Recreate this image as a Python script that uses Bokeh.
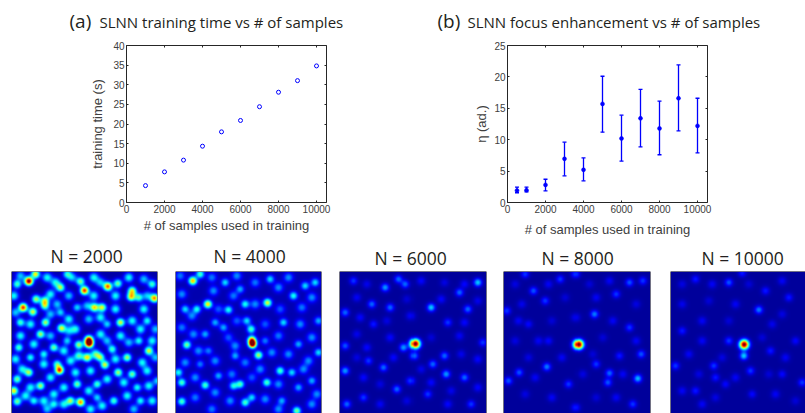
import numpy as np
from bokeh.plotting import figure
from bokeh.layouts import column, row
from bokeh.core.properties import value
from bokeh.models import (ColumnDataSource, FixedTicker, LinearAxis, LinearColorMapper, Range1d,
                          Span, TeeHead, Whisker)
from bokeh.embed import file_html
from bokeh.resources import INLINE

# ---- panel (a)
samples_a = [1000, 2000, 3000, 4000, 5000, 6000, 7000, 8000, 9000, 10000]
train_time = [4.3, 7.8, 10.8, 14.35, 18.0, 20.9, 24.4, 28.1, 31.05, 34.8]

# ---- panel (b)
samples_b = [500, 1000, 2000, 3000, 4000, 5000, 6000, 7000, 8000, 9000, 10000]
eta_mean = [1.9, 1.95, 2.8, 6.95, 5.2, 15.7, 10.2, 13.4, 11.8, 16.6, 12.2]
eta_high = [2.45, 2.45, 3.7, 9.6, 7.1, 20.1, 13.9, 18.0, 16.15, 21.9, 16.6]
eta_low = [1.55, 1.7, 1.85, 4.25, 3.45, 11.2, 6.6, 8.85, 7.6, 11.4, 7.9]

x_ticks = [0, 2000, 4000, 6000, 8000, 10000]
y_ticks_a = [0, 5, 10, 15, 20, 25, 30, 35, 40]
y_ticks_b = [0, 5, 10, 15, 20, 25]

# ---- focus maps: spots (column, row from top, height)
titles_maps = ["N = 2000", "N = 4000", "N = 6000", "N = 8000", "N = 10000"]
spots_2000 = [(85,121,.95),(265,296,.7),(266,308,.95),(177,388,.8),(68,200,.8),(322,137,.75),(252,149,.8),(462,172,.7),(240,484,.7),(105,100,.6),
 (133,180,.5),(133,195,.45),(107,175,.5),(97,213,.55),(282,200,.6),(305,200,.55),(395,150,.55),(392,168,.6),(183,262,.55),(135,245,.5),(120,280,.5),
 (360,245,.55),(260,350,.6),(313,372,.55),(235,312,.5),(160,320,.45),(445,330,.55),(380,350,.5),(353,395,.5),(85,395,.5),(120,435,.5),
 (50,482,.45),(210,480,.5),(395,400,.45),(180,140,.5),(240,122,.45),(352,128,.45),(415,170,.4),(50,130,.4),(60,245,.4),(55,320,.4),
 (90,350,.35),(230,430,.45),(300,350,.45),(335,325,.4),(40,450,.6),(50,415,.45),(290,430,.4),(340,480,.4),(420,480,.35),(455,130,.4),
 (440,240,.35),(415,300,.35),(410,440,.35),(200,100,.35),(170,370,.4),(230,200,.3),(180,215,.3),(320,250,.3),(160,490,.35),(100,480,.35),
 (470,420,.3),(130,340,.35),(200,300,.3),(290,470,.3)]
mottle_2000 = [(60,105,.2),(140,110,.25),(165,125,.25),(215,110,.2),(280,110,.25),(300,125,.2),(385,110,.25),(430,115,.2),
 (40,165,.25),(150,160,.25),(205,165,.2),(280,165,.25),(345,165,.25),(440,165,.2),(170,190,.2),(260,195,.2),(345,205,.25),(430,205,.25),
 (45,215,.2),(150,220,.2),(205,235,.25),(265,235,.2),(300,230,.25),(395,240,.25),(420,265,.25),(465,265,.2),(90,250,.25),(225,265,.25),
 (60,285,.25),(150,285,.2),(205,270,.2),(300,280,.25),(360,285,.25),(385,305,.2),(455,300,.25),(100,310,.25),(190,330,.25),(320,300,.2),
 (45,355,.25),(130,370,.25),(210,360,.25),(235,345,.3),(285,340,.3),(345,355,.25),(425,365,.25),(465,350,.2),(65,385,.25),(225,395,.25),
 (270,390,.25),(440,390,.25),(150,410,.25),(320,415,.25),(370,425,.25),(445,435,.25),(90,440,.25),(190,440,.25),(265,450,.25),(160,460,.25),
 (75,465,.25),(130,480,.25),(190,490,.25),(305,495,.25),(380,465,.25),(455,480,.25),(400,505,.2),(270,505,.25),(140,505,.2)]
spots_4000 = [(260,298,.7),(262,310,1.0),(83,120,.65),(128,190,.6),(307,186,.55),(280,343,.5),(258,265,.4),(65,312,.45),(105,100,.4),(50,425,.4),
 (120,433,.4),(225,430,.4),(205,435,.35),(305,425,.4),(345,390,.4),(50,482,.4),(240,485,.4),(395,510,.45),(385,165,.35),(240,190,.35),
 (190,207,.35),(95,205,.35),(60,205,.3),(180,125,.3),(225,145,.25),(315,115,.3),(420,135,.3),(450,125,.3),(355,245,.3),(460,240,.25),
 (460,335,.3),(150,245,.25),(120,280,.25),(380,395,.3),(210,345,.25),(245,240,.3),(440,420,.25),(350,480,.25),(130,330,.2),(300,300,.2),
 (400,310,.25),(175,260,.25),(40,395,.35),(160,405,.25),(400,440,.25),(105,370,.2),(260,470,.3)]
mottle_4000 = [(45,105,.18),(140,110,.18),(215,105,.2),(270,125,.18),(370,110,.2),(50,160,.2),(145,150,.2),(205,165,.18),(340,140,.2),
 (440,170,.2),(80,225,.2),(160,205,.15),(270,190,.2),(345,205,.15),(410,200,.18),(50,260,.18),(215,240,.15),(300,250,.15),(405,250,.2),
 (85,280,.2),(190,290,.15),(340,285,.18),(440,290,.2),(100,330,.2),(210,315,.2),(240,365,.18),(320,335,.2),(370,340,.2),(430,360,.2),
 (60,365,.2),(150,360,.2),(285,385,.2),(415,385,.2),(90,410,.2),(200,400,.18),(260,410,.15),(340,430,.2),(455,460,.2),(150,455,.2),
 (90,470,.18),(195,480,.2),(300,475,.2),(440,490,.2),(140,505,.18),(340,505,.2)]
spots_6000 = [(253,309,1.0),(440,125,.3),(300,200,.3),(165,140,.25),(125,190,.2),(45,215,.2),(180,200,.2),(225,130,.2),(205,115,.2),
 (220,320,.25),(345,400,.25),(340,345,.2),(45,390,.25),(115,360,.15),(160,380,.2),(305,370,.2),(410,205,.2),(385,155,.2),(70,120,.15),
 (250,345,.2),(200,445,.2),(240,420,.15),(50,490,.2),(400,410,.2),(455,305,.15),(130,250,.12),(350,245,.15),(420,490,.15),(290,460,.15),
 (100,470,.15),(45,315,.18)]
mottle_6000 = [(110,130,.08),(270,120,.1),(340,125,.07),(400,130,.1),(80,170,.09),(230,175,.06),(330,175,.1),(440,180,.08),(90,230,.1),(170,240,.07),
 (240,225,.09),(400,245,.1),(80,280,.08),(180,290,.1),(300,290,.06),(385,285,.09),(110,320,.1),(390,340,.08),(440,355,.1),(80,350,.07),(190,350,.1),
 (270,385,.08),(100,410,.1),(150,430,.07),(300,425,.1),(360,450,.08),(440,440,.1),(150,490,.09),(230,480,.07),(350,490,.1)]
spots_8000 = [(248,311,1.0),(425,413,.28),(295,220,.22),(155,378,.22),(340,397,.2),(115,150,.18),(400,125,.18),(435,340,.18),(72,395,.18),
 (40,420,.18),(90,100,.15),(240,100,.15),(195,115,.15),(440,120,.15),(360,160,.15),(35,210,.15),(150,180,.15),(400,260,.15),(370,345,.12),
 (300,370,.15),(220,430,.15),(410,490,.15),(240,500,.12),(100,250,.1),(160,300,.1),(335,425,.18)]
mottle_8000 = [(60,130,.07),(160,130,.09),(280,130,.06),(340,120,.09),(80,190,.08),(210,170,.06),(300,170,.09),(420,190,.07),(70,240,.09),
 (170,240,.06),(240,230,.08),(350,240,.09),(60,300,.07),(130,300,.09),(320,290,.06),(420,300,.09),(100,350,.07),(200,350,.09),(290,340,.06),
 (120,410,.09),(260,400,.07),(380,400,.09),(90,460,.07),(170,470,.09),(300,470,.06),(360,470,.09)]
spots_10000 = [(746,311,1.0),(745,345,.3),(790,207,.22),(700,125,.18),(655,375,.15),(765,390,.15),(660,410,.12),(920,425,.15),(560,270,.12),
 (540,375,.15),(600,115,.12),(740,97,.12),(700,300,.15),(825,330,.12),(880,170,.12),(810,150,.12),(600,450,.12),(770,460,.1),(690,430,.1),
 (860,400,.1),(900,300,.1)]
mottle_10000 = [(560,130,.07),(650,130,.09),(760,130,.06),(860,120,.09),(560,190,.08),(640,180,.06),(720,190,.09),(860,220,.07),(620,240,.09),
 (700,240,.06),(830,250,.08),(620,300,.09),(800,290,.06),(580,340,.09),(680,350,.07),(870,350,.09),(610,400,.07),(720,410,.09),(820,400,.06),
 (560,450,.09),(660,470,.07),(840,460,.09),(900,480,.06),(620,490,.09)]

# ---- heading texts
head_letters = ["(a)", "(b)"]
head_texts = ["SLNN training time vs # of samples", "SLNN focus enhancement vs # of samples"]

TEXT = "#404040"
BLUE = "#0000ff"
AX = "#262626"
TITLE = "#231f20"
FONT = value("Open Sans")


def jet():
    t = np.linspace(0, 1, 256)
    r = np.clip(np.minimum(4 * t - 1.5, -4 * t + 4.5), 0, 1)
    g = np.clip(np.minimum(4 * t - 0.5, -4 * t + 3.5), 0, 1)
    b = np.clip(np.minimum(4 * t + 0.5, -4 * t + 2.5), 0, 1)
    return ["#%02x%02x%02x" % (int(a * 255), int(c * 255), int(d * 255)) for a, c, d in zip(r, g, b)]


def style_plot(p, yticks, xlabel, ylabel, x_standoff, y_standoff):
    xa, ya = p.xaxis[0], p.yaxis[0]
    xa.ticker = FixedTicker(ticks=x_ticks)
    ya.ticker = FixedTicker(ticks=yticks)
    xa.axis_label, ya.axis_label = xlabel, ylabel
    xa.axis_label_standoff, ya.axis_label_standoff = x_standoff, y_standoff
    for a in (xa, ya):
        a.axis_label_text_font = "Liberation Sans"
        a.axis_label_text_font_size = "13px"
        a.axis_label_text_font_style = "normal"
        a.axis_label_text_color = TEXT
        a.major_label_text_font = "Liberation Sans"
        a.major_label_text_font_size = "10px"
        a.major_label_text_color = TEXT
        a.major_label_standoff = 2
    top = LinearAxis(ticker=FixedTicker(ticks=x_ticks), major_label_overrides={t: "" for t in x_ticks})
    right = LinearAxis(ticker=FixedTicker(ticks=yticks), major_label_overrides={t: "" for t in yticks})
    p.add_layout(top, "above")
    p.add_layout(right, "right")
    for a in (xa, ya, top, right):
        a.major_tick_in = 2
        a.major_tick_out = 0
        a.minor_tick_line_color = None
        a.axis_line_color = AX
        a.major_tick_line_color = AX
    p.outline_line_color = None
    p.grid.visible = False


def banner(height):
    p = figure(width=805, height=height, output_backend="svg", toolbar_location=None,
               x_axis_location=None, y_axis_location=None,
               x_range=Range1d(0, 805), y_range=Range1d(height, 0),
               min_border_left=0, min_border_right=0, min_border_top=0, min_border_bottom=0)
    p.grid.visible = False
    p.outline_line_color = None
    return p


XMAX = 10526
# ---- heading band above the two plots
top_band = banner(36)
top_band.text(x=[69, 437], y=[20, 20], text=head_letters, text_font=FONT, text_font_size="19px",
              text_color=TITLE, text_baseline="middle")
top_band.text(x=[99, 467], y=[21, 21], text=head_texts, text_font=FONT, text_font_size="15px",
              text_color=TITLE, text_baseline="middle")

# ---- (a)
pa = figure(width=420, height=204, output_backend="svg", toolbar_location=None,
            x_range=Range1d(0, XMAX), y_range=Range1d(0, 40),
            min_border_left=126, min_border_right=94, min_border_top=8, min_border_bottom=38)
style_plot(pa, y_ticks_a, "# of samples used in training", "training time (s)", 2, 5)
pa.scatter(samples_a, train_time, marker="circle", size=4, fill_color=None, line_color=BLUE, line_width=1)

# ---- (b)
pb = figure(width=385, height=204, output_backend="svg", toolbar_location=None,
            x_range=Range1d(0, XMAX), y_range=Range1d(0, 25),
            min_border_left=87, min_border_right=98, min_border_top=9, min_border_bottom=38)
style_plot(pb, y_ticks_b, "# of samples used in training", "η (ad.)", 6, 2)
src = ColumnDataSource(dict(x=samples_b, m=eta_mean, hi=eta_high, lo=eta_low))
pb.add_layout(Whisker(source=src, base="x", upper="hi", lower="lo", line_color=BLUE, line_width=1.3,
                      upper_head=TeeHead(size=4, line_color=BLUE, line_width=1.3),
                      lower_head=TeeHead(size=4, line_color=BLUE, line_width=1.3)))
pb.scatter("x", "m", source=src, marker="circle", size=4, fill_color=BLUE, line_color=BLUE, line_width=0.5)

# ---- heading band above the maps
map_band = banner(30)
map_band.text(x=[50, 213, 374, 541, 701], y=[15, 15, 17, 17, 17], text=titles_maps, text_font=FONT,
              text_font_size="17.5px", text_color=TITLE, text_baseline="middle")

# ---- focus maps
N = 146
mapper = LinearColorMapper(palette=jet(), low=0, high=1)


def field(spots, mottle, ox, oy, base, sigma, peak_sigma, mottle_sigma, mottle_gain):
    yy, xx = np.mgrid[0:N, 0:N] + 0.5
    out = np.full((N, N), float(base))
    for (zx, zy, h) in spots:
        s = peak_sigma if h >= 1.0 else sigma
        out += h * np.exp(-(((xx - (zx - ox) / 3) ** 2 + (yy - (zy - oy) / 3) ** 2) / (2 * s * s)))
    for (zx, zy, h) in mottle:
        out += mottle_gain * h * np.exp(-(((xx - (zx - ox) / 3) ** 2 + (yy - (zy - oy) / 3) ** 2) / (2 * mottle_sigma ** 2)))
    return np.clip(out, 0, 1)[::-1]


def map_panel(spots, mottle, ox, oy, base, sigma, peak_sigma, mottle_sigma, mottle_gain, left, right, width, shown, sides):
    p = figure(width=width, height=143, output_backend="svg", toolbar_location=None,
               x_axis_location=None, y_axis_location=None,
               x_range=Range1d(0, shown), y_range=Range1d(N - 142, N),
               min_border_left=left, min_border_right=right, min_border_top=1, min_border_bottom=0)
    p.grid.visible = False
    p.outline_line_color = None
    p.image(image=[field(spots, mottle, ox, oy, base, sigma, peak_sigma, mottle_sigma, mottle_gain)],
            x=0, y=0, dw=N, dh=N, color_mapper=mapper)
    p.add_layout(Span(location=N, dimension="width", line_color=AX, line_width=1))
    for s in sides:
        p.add_layout(Span(location=s, dimension="height", line_color=AX, line_width=1))
    return p


m1 = map_panel(spots_2000, mottle_2000, 33, 92, .04, 2.9, 2.6, 3.3, 1.4, 11, 9, 166, N, [0, N])
m2 = map_panel(spots_4000, mottle_4000, 31, 92, .05, 2.8, 2.6, 3.3, 1.1, 9, 9, 164, N, [0, N])
m3 = map_panel(spots_6000, mottle_6000, 28, 92, .03, 2.8, 3.2, 3.0, 1.0, 9, 9, 165, N, [0, N])
m4 = map_panel(spots_8000, mottle_8000, 25, 92, .03, 2.8, 3.2, 3.0, 1.0, 8, 10, 165, N, [0, N])
m5 = map_panel(spots_10000, mottle_10000, 525, 92, .03, 2.8, 3.2, 3.0, 1.0, 10, 0, 145, 135, [0])

page = column(top_band, row(pa, pb), map_band, row(m1, m2, m3, m4, m5))
open("out.html", "w").write(file_html(page, INLINE))
